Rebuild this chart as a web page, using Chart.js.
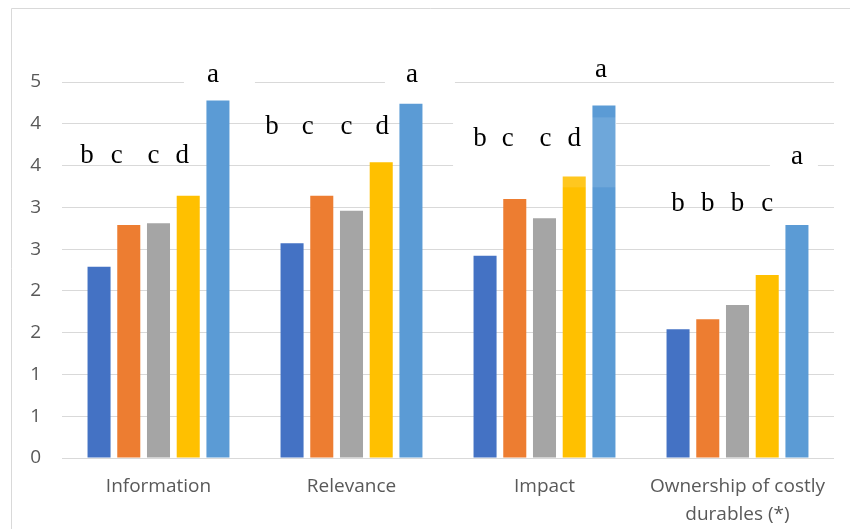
<!DOCTYPE html>
<html>
<head>
<meta charset="utf-8">
<script src="https://cdn.jsdelivr.net/npm/chart.js@4/dist/chart.umd.min.js"></script>
<style>
  html, body { margin: 0; padding: 0; background: #ffffff; }
  #wrap { width: 850px; height: 529px; }
</style>
</head>
<body>
<div id="wrap"><canvas id="chart" width="850" height="529"></canvas></div>
<script>
// ---- data ----
const categories = ['Information', 'Relevance', 'Impact', ['Ownership of costly', 'durables (*)']];
const series1 = [2.29, 2.57, 2.42, 1.54];
const series2 = [2.79, 3.14, 3.10, 1.66];
const series3 = [2.81, 2.96, 2.87, 1.83];
const series4 = [3.14, 3.54, 3.37, 2.19];
const series5 = [4.28, 4.24, 4.22, 2.79];
const yTickLabels = ['0', '1', '1', '2', '2', '3', '3', '4', '4', '5'];
// significance letters per category, one per series
const groupLetters = [
  ['b', 'c', 'c', 'd', 'a'],
  ['b', 'c', 'c', 'd', 'a'],
  ['b', 'c', 'c', 'd', 'a'],
  ['b', 'b', 'b', 'c', 'a']
];

// ---- letter placement (value-axis baselines, pixel nudges) ----
const letterLayout = {
  rowLevel: [3.53, 3.88, 3.73, 2.96],   // baseline of the first four letters
  topLevel: [4.50, 4.50, 4.56, 3.52],   // baseline of the last letter
  dx: [
    [-12, -12, -5, -6, -5],
    [-20, -14, -5, 1, 1],
    [-5, -7, 1, 0, -3],
    [0, 0, 0, 0, 0]
  ],
  // white text-box backgrounds: anchored on a letter (series index) of a category
  boxes: [
    { group: 0, from: 4, to: 4, level: 'top', left: -29, right: 42, top: -22, bottom: 6 },
    { group: 1, from: 4, to: 4, level: 'top', left: -27, right: 43, top: -22, bottom: 6 },
    { group: 2, from: 0, to: 3, level: 'row', left: -27, right: 42, top: -29, bottom: 41, tint: true },
    { group: 3, from: 4, to: 4, level: 'top', left: -27, right: 21, top: -22, bottom: 6 }
  ]
};

const colors = ['#4472C4', '#ED7D31', '#A5A5A5', '#FFC000', '#5B9BD5'];
const seriesData = [series1, series2, series3, series4, series5];

function letterPos(chart, g, s) {
  const bar = chart.getDatasetMeta(s).data[g];
  const lv = s === 4 ? letterLayout.topLevel[g] : letterLayout.rowLevel[g];
  return { x: bar.x + letterLayout.dx[g][s], y: chart.scales.y.getPixelForValue(lv) };
}

function boxRect(chart, b) {
  const a = letterPos(chart, b.group, b.from);
  const z = letterPos(chart, b.group, b.to);
  return { x: a.x + b.left, y: a.y + b.top, w: (z.x + b.right) - (a.x + b.left), h: b.bottom - b.top };
}

const frameAndLetters = {
  id: 'frameAndLetters',
  beforeDraw(chart) {
    const ctx = chart.ctx;
    ctx.save();
    ctx.fillStyle = '#ffffff';
    ctx.fillRect(0, 0, chart.width, chart.height);
    ctx.strokeStyle = '#d9d9d9';
    ctx.lineWidth = 1;
    ctx.beginPath();
    ctx.moveTo(11.5, chart.height);
    ctx.lineTo(11.5, 8.5);
    ctx.lineTo(chart.width, 8.5);
    ctx.stroke();
    ctx.restore();
  },
  beforeDatasetsDraw(chart) {
    const ctx = chart.ctx;
    ctx.save();
    ctx.fillStyle = '#ffffff';
    letterLayout.boxes.forEach(b => {
      const r = boxRect(chart, b);
      ctx.fillRect(r.x, r.y, r.w, r.h);
    });
    ctx.restore();
  },
  afterDatasetsDraw(chart) {
    const ctx = chart.ctx;
    ctx.save();
    ctx.fillStyle = 'rgba(255,255,255,0.12)';
    letterLayout.boxes.filter(b => b.tint).forEach(b => {
      const r = boxRect(chart, b);
      ctx.fillRect(r.x, r.y, r.w, r.h);
    });
    ctx.fillStyle = '#000000';
    ctx.font = "27px 'Liberation Serif', 'Times New Roman', serif";
    ctx.textAlign = 'center';
    ctx.textBaseline = 'alphabetic';
    groupLetters.forEach((letters, g) => {
      letters.forEach((t, s) => {
        const p = letterPos(chart, g, s);
        ctx.fillText(t, p.x, p.y);
      });
    });
    ctx.restore();
  }
};

Chart.defaults.font.family = "'Open Sans', 'Noto Sans', sans-serif";
Chart.defaults.font.size = 19;
Chart.defaults.color = '#595959';

new Chart(document.getElementById('chart'), {
  type: 'bar',
  data: {
    labels: categories,
    datasets: seriesData.map((d, i) => ({
      label: 'Series ' + (i + 1),
      data: d,
      backgroundColor: colors[i],
      borderWidth: 0,
      categoryPercentage: 0.77,
      barPercentage: 0.775
    }))
  },
  options: {
    responsive: false,
    animation: false,
    devicePixelRatio: 1,
    layout: { padding: { top: 82, right: 16, bottom: 0, left: 0 } },
    plugins: { legend: { display: false }, tooltip: { enabled: false } },
    scales: {
      x: {
        grid: { display: false, drawTicks: false },
        border: { display: false },
        ticks: { padding: 15, maxRotation: 0, autoSkip: false, font: { size: 19, lineHeight: 1.47 } },
        afterFit(scale) { scale.height = 71; }
      },
      y: {
        min: 0,
        max: 4.5,
        grid: { color: '#d9d9d9', lineWidth: 1, drawTicks: false },
        border: { display: false },
        ticks: {
          stepSize: 0.5,
          padding: 21,
          callback: (v, i) => yTickLabels[i]
        },
        afterFit(scale) { scale.width = 62; }
      }
    }
  },
  plugins: [frameAndLetters]
});
</script>
</body>
</html>
